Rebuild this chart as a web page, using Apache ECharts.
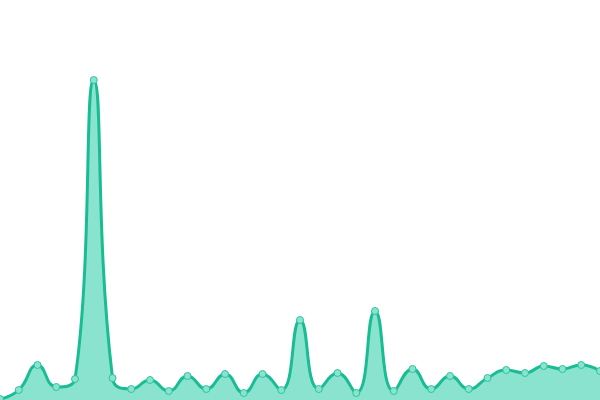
<!DOCTYPE html>
<html><head><meta charset="utf-8">
<script src="https://cdn.jsdelivr.net/npm/echarts@6/dist/echarts.min.js"></script>
<style>html,body{margin:0;padding:0;background:#fff}#c{width:600px;height:400px}</style>
</head><body><div id="c"></div>
<script>
const categories = Array.from({length:33},(_,i)=>String(i+1));
const values = [1,10,35,13,21,320,22,11,20,9,24,11,26,7,26,10,80,11,27,7,89,9,31,11,24,11,22,30,27,34,31,35,29];
const chart = echarts.init(document.getElementById('c'));
chart.setOption({
  animation:false,
  grid:{left:0,right:0,top:0,bottom:0},
  xAxis:{type:'category',data:categories,boundaryGap:false,show:false},
  yAxis:{type:'value',min:0,max:400,show:false},
  series:[{
    type:'line',data:values,smooth:true,
    symbol:'circle',symbolSize:7,showSymbol:true,
    lineStyle:{color:'#1abc94',width:3},
    itemStyle:{color:'#8ae3cf',borderColor:'#2cc49e',borderWidth:1},
    areaStyle:{color:'#8ae3cf',opacity:1}
  }]
});
</script></body></html>
